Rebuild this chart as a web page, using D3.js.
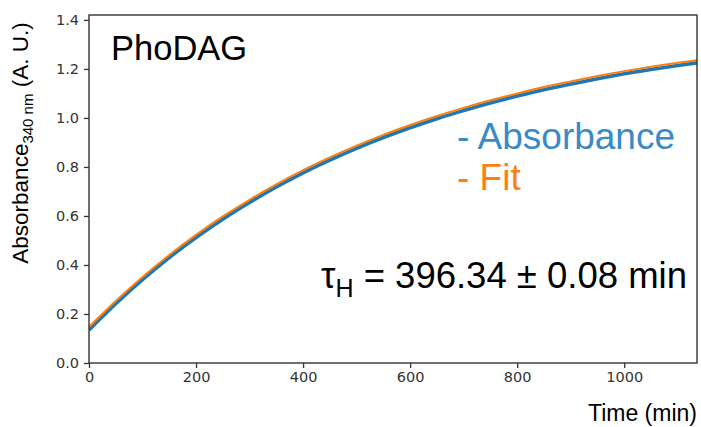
<!DOCTYPE html>
<html><head><meta charset="utf-8">
<script src="https://cdn.jsdelivr.net/npm/d3@7"></script>
<style>body{margin:0;background:#fff}svg{display:block}</style></head>
<body>
<svg id="c" width="701" height="427"></svg>
<script>
const timeMin = [0,50,100,150,200,250,300,350,400,450,500,550,600,650,700,750,800,850,900,950,1000,1050,1100,1150];
const absorbance = [0.135,0.242,0.340,0.430,0.512,0.587,0.655,0.718,0.776,0.828,0.876,0.920,0.960,0.997,1.030,1.061,1.089,1.115,1.138,1.160,1.180,1.198,1.214,1.229];
const fit = [0.147,0.253,0.351,0.441,0.523,0.598,0.666,0.729,0.787,0.839,0.887,0.931,0.971,1.008,1.041,1.072,1.100,1.126,1.149,1.171,1.191,1.209,1.225,1.240];
const xTicks = [0,200,400,600,800,1000];
const yTicks = [0.0,0.2,0.4,0.6,0.8,1.0,1.2,1.4];
const xDomain = [0,1136];
const yDomain = [0,1.42];

const svg = d3.select("#c");
const L=89,R=697,T=15,B=363;
const x = d3.scaleLinear().domain(xDomain).range([L,R]);
const y = d3.scaleLinear().domain(yDomain).range([B,T]);

svg.append("defs").append("clipPath").attr("id","clip")
  .append("rect").attr("x",L).attr("y",T).attr("width",R-L).attr("height",B-T);

const line = d3.line().x((d,i)=>x(timeMin[i])).y(d=>y(d)).curve(d3.curveMonotoneX);
const g = svg.append("g").attr("clip-path","url(#clip)");
g.append("path").attr("d",line(absorbance)).attr("fill","none").attr("stroke","#1f77b4").attr("stroke-width",3.6);
g.append("path").attr("d",line(fit)).attr("fill","none").attr("stroke","#ff7f0e").attr("stroke-width",2);

const xa = svg.append("g").attr("transform",`translate(0,${B})`)
  .call(d3.axisBottom(x).tickValues(xTicks).tickFormat(d3.format("d")).tickSize(5).tickPadding(4));
const ya = svg.append("g").attr("transform",`translate(${L},0)`)
  .call(d3.axisLeft(y).tickValues(yTicks).tickFormat(d3.format(".1f")).tickSize(5).tickPadding(5));
[xa,ya].forEach(a=>{
  a.select(".domain").remove();
  a.selectAll("line").attr("stroke","#333").attr("stroke-width",1.3);
  a.selectAll("text").attr("fill","#333").style("font-family","DejaVu Sans").style("font-size","14.5px");
});
svg.append("rect").attr("x",L).attr("y",T).attr("width",R-L).attr("height",B-T)
  .attr("fill","none").attr("stroke","#333").attr("stroke-width",1.4);

const sans = "Liberation Sans, Arial, sans-serif";
svg.append("text").attr("x",111).attr("y",60).text("PhoDAG")
  .style("font-family",sans).style("font-size","34.5px").attr("fill","#000");
svg.append("text").attr("x",457).attr("y",149).text("- Absorbance")
  .style("font-family",sans).style("font-size","37px").attr("fill","#3a8ac8");
svg.append("text").attr("x",457).attr("y",190).text("- Fit")
  .style("font-family",sans).style("font-size","37px").attr("fill","#ff7f0e");

const tau = svg.append("text").attr("x",321).attr("y",288)
  .style("font-family",sans).style("font-size","36.5px").attr("fill","#000");
tau.append("tspan").text("τ");
tau.append("tspan").attr("dy",9).style("font-size","25px").text("H");
tau.append("tspan").attr("dy",-9).text(" = 396.34 ± 0.08 min");

svg.append("text").attr("x",697).attr("y",421).attr("text-anchor","end").text("Time (min)")
  .style("font-family",sans).style("font-size","23px").attr("fill","#000");

const yl = svg.append("text").attr("transform","translate(28,143) rotate(-90)").attr("text-anchor","middle")
  .style("font-family",sans).style("font-size","22.5px").attr("fill","#000");
yl.append("tspan").text("Absorbance");
yl.append("tspan").attr("dy",5).style("font-size","15px").text("340 nm");
yl.append("tspan").attr("dy",-5).text(" (A. U.)");
</script>
</body></html>
